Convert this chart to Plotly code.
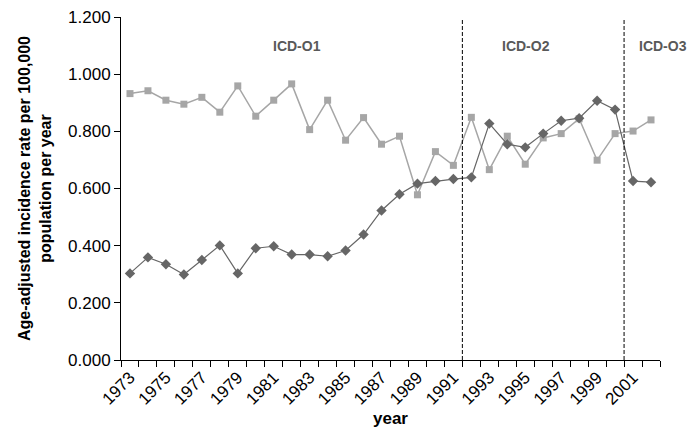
import plotly.graph_objects as go

years = list(range(1973, 2003))
squares = [0.932, 0.942, 0.909, 0.895, 0.919, 0.867, 0.959, 0.853, 0.909, 0.966,
           0.806, 0.909, 0.769, 0.848, 0.755, 0.783, 0.578, 0.729, 0.681, 0.849,
           0.666, 0.783, 0.685, 0.777, 0.792, 0.844, 0.699, 0.792, 0.801, 0.840]
diamonds = [0.303, 0.359, 0.335, 0.299, 0.350, 0.401, 0.303, 0.391, 0.398, 0.369,
            0.369, 0.363, 0.383, 0.439, 0.523, 0.580, 0.617, 0.626, 0.633, 0.639,
            0.827, 0.755, 0.744, 0.792, 0.837, 0.846, 0.907, 0.876, 0.626, 0.622]
label_years = list(range(1973, 2003, 2))
period_breaks = [1991.5, 2000.5]
period_labels = [("ICD-O1", 0.326), ("ICD-O2", 0.751), ("ICD-O3", 1.005)]

fig = go.Figure()
fig.add_trace(go.Scatter(x=years, y=squares, mode="lines+markers",
                         line=dict(color="#A6A6A6", width=1.5),
                         marker=dict(symbol="square", size=7, color="#A6A6A6"),
                         showlegend=False, cliponaxis=False))
fig.add_trace(go.Scatter(x=years, y=diamonds, mode="lines+markers",
                         line=dict(color="#666666", width=1.2),
                         marker=dict(symbol="diamond", size=8, color="#666666"),
                         showlegend=False, cliponaxis=False))

for xb in period_breaks:
    fig.add_shape(type="line", x0=xb, x1=xb, y0=0, y1=1.19, xref="x", yref="y",
                  line=dict(color="black", width=1, dash="4px,2px"))

for txt, xp in period_labels:
    fig.add_annotation(x=xp, y=1.10, xref="paper", yref="y", text="<b>%s</b>" % txt,
                       xanchor="center", yanchor="middle",
                       showarrow=False, font=dict(size=14, color="#595959",
                                                  family="Liberation Sans, Arial"))

fig.update_layout(
    width=691, height=440,
    margin=dict(l=121, r=31, t=17, b=80),
    plot_bgcolor="white", paper_bgcolor="white",
    font=dict(family="Liberation Sans, Arial", size=16, color="black"),
    xaxis=dict(range=[1972.5, 2002.5], tickmode="array", tickvals=label_years,
               ticktext=[str(y) for y in label_years], tickangle=-45, ticks="",
               tickfont=dict(size=17), automargin=False,
               showline=True, linecolor="black", linewidth=1, showgrid=False,
               zeroline=False,
               minor=dict(tickmode="array", tickvals=[y - 0.5 for y in years] + [2002.5],
                          ticks="outside", ticklen=6, tickcolor="black", showgrid=False),
               title=dict(text="<b>year</b>", font=dict(size=17), standoff=4)),
    yaxis=dict(range=[0, 1.2], dtick=0.2, tickformat=".3f", ticks="outside",
               ticklen=6, tickcolor="black", showline=True, linecolor="black", linewidth=1,
               tickfont=dict(size=17), automargin=False,
               showgrid=False, zeroline=False,
               title=dict(text="<b>Age-adjusted incidence rate per 100,000<br>population per year</b>",
                          font=dict(size=16), standoff=12)),
)

fig.write_html("out.html", config={"displayModeBar": False},
               post_script="document.body.style.margin='0px';")
